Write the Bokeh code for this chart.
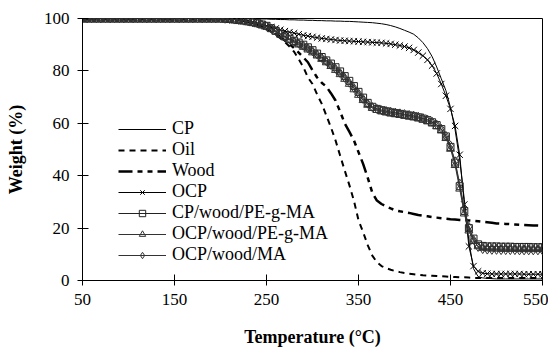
from bokeh.plotting import figure
from bokeh.models import FixedTicker
from bokeh.embed import file_html
from bokeh.resources import INLINE

temperature = list(range(50, 555, 5))

cp = [100, 100, 100, 100, 100, 100, 100, 100, 100, 100,
      100, 100, 100, 100, 100, 100, 100, 100, 100, 100,
      100, 100, 100, 100, 100, 100, 100, 100, 100, 100,
      100, 100, 100, 100, 99.9, 99.9, 99.9, 99.9, 99.8, 99.8,
      99.8, 99.7, 99.7, 99.6, 99.6, 99.5, 99.5, 99.4, 99.4, 99.3,
      99.3, 99.2, 99.2, 99.1, 99.1, 99.0, 99.0, 98.9, 98.9, 98.8,
      98.7, 98.6, 98.5, 98.4, 98.2, 98.0, 97.7, 97.3, 96.8, 96.2,
      95.5, 94.8, 94.0, 92.6, 90.8, 88.5, 85.5, 81.5, 77.0, 72.5,
      66.0, 57.5, 46.0, 31.0, 15.0, 4.5, 1.5, 1.0, 0.8, 0.7,
      0.6, 0.6, 0.6, 0.6, 0.6, 0.6, 0.6, 0.6, 0.6, 0.6,
      0.6]

oil = [100, 100, 100, 100, 100, 100, 100, 100, 100, 100,
       100, 100, 100, 100, 100, 100, 100, 100, 100, 100,
       100, 100, 100, 100, 100, 100, 100, 100, 100, 100,
       100, 99.9, 99.8, 99.6, 99.4, 99.1, 98.7, 98.2, 97.6, 96.9,
       96.0, 95.0, 93.8, 92.5, 91.0, 89.3, 87.3, 84.5, 81.5, 77.5,
       75.0, 71.0, 67.5, 63.0, 58.5, 53.5, 47.7, 42.0, 36.5, 30.5,
       23.0, 18.5, 13.5, 9.5, 7.0, 5.5, 4.7, 4.1, 3.6, 3.2,
       2.9, 2.6, 2.4, 2.2, 2.0, 1.9, 1.8, 1.7, 1.6, 1.5,
       1.4, 1.3, 1.2, 1.2, 1.1, 1.0, 1.0, 1.0, 1.0, 1.0,
       1.0, 1.0, 1.0, 1.0, 1.0, 1.0, 1.0, 1.0, 1.0, 1.0,
       1.0]

wood = [100, 100, 100, 100, 100, 100, 100, 100, 100, 100,
        100, 100, 100, 100, 100, 100, 100, 100, 100, 100,
        100, 100, 100, 100, 100, 100, 100, 100, 100, 100,
        100, 99.9, 99.8, 99.6, 99.4, 99.1, 98.7, 98.2, 97.6, 96.9,
        96.1, 95.2, 94.2, 93.0, 91.6, 90.2, 88.7, 87.0, 85.2, 83.3,
        80.2, 77.5, 75.5, 74.0, 71.5, 68.7, 64.5, 60.0, 56.8, 53.5,
        49.0, 44.5, 39.3, 33.5, 30.5, 29.2, 28.3, 27.5, 26.8, 26.4,
        26.1, 25.8, 25.4, 25.0, 24.7, 24.5, 24.2, 24.0, 23.8, 23.6,
        23.4, 23.3, 23.1, 23.0, 22.9, 22.8, 22.6, 22.4, 22.2, 22.0,
        21.8, 21.7, 21.6, 21.5, 21.4, 21.3, 21.2, 21.1, 21.0, 21.0,
        20.9]

ocp = [100, 100, 100, 100, 100, 100, 100, 100, 100, 100,
       100, 100, 100, 100, 100, 100, 100, 100, 100, 100,
       100, 100, 100, 100, 100, 100, 100, 100, 100, 100,
       100, 99.9, 99.8, 99.7, 99.5, 99.3, 99.0, 98.6, 98.2, 97.7,
       97.2, 96.7, 96.2, 95.7, 95.2, 94.8, 94.4, 94.0, 93.6, 93.3,
       93.0, 92.7, 92.4, 92.2, 92.0, 91.8, 91.6, 91.5, 91.4, 91.3,
       91.2, 91.1, 91.0, 90.9, 90.8, 90.7, 90.5, 90.3, 90.0, 89.7,
       89.3, 88.8, 88.0, 87.0, 85.8, 84.2, 82.0, 79.0, 75.0, 70.5,
       65.5, 59.0, 48.0, 29.0, 13.0, 5.5, 3.5, 2.8, 2.6, 2.5,
       2.5, 2.5, 2.5, 2.5, 2.5, 2.5, 2.4, 2.4, 2.4, 2.4,
       2.4]

cp_wood_pe = [100, 100, 100, 100, 100, 100, 100, 100, 100, 100,
              100, 100, 100, 100, 100, 100, 100, 100, 100, 100,
              100, 100, 100, 100, 100, 100, 100, 100, 100, 100,
              100, 99.9, 99.8, 99.6, 99.4, 99.2, 98.9, 98.6, 98.2, 97.7,
              97.2, 96.3, 95.3, 94.2, 93.2, 92.3, 91.5, 90.8, 90.0, 89.0,
              87.9, 86.6, 85.3, 84.0, 82.8, 81.4, 79.8, 78.0, 76.2, 74.2,
              72.0, 69.8, 67.8, 66.3, 65.5, 65.0, 64.6, 64.2, 63.9, 63.6,
              63.3, 63.0, 62.7, 62.3, 61.8, 61.2, 60.4, 59.3, 57.8, 55.0,
              51.0, 45.0, 36.0, 26.5, 20.0, 16.0, 13.8, 13.2, 13.0, 13.0,
              13.0, 12.9, 12.9, 12.9, 12.8, 12.8, 12.8, 12.8, 12.7, 12.7,
              12.7]

ocp_wood_pe = [100, 100, 100, 100, 100, 100, 100, 100, 100, 100,
               100, 100, 100, 100, 100, 100, 100, 100, 100, 100,
               100, 100, 100, 100, 100, 100, 100, 100, 100, 100,
               100, 99.9, 99.8, 99.6, 99.4, 99.1, 98.8, 98.4, 98.0, 97.5,
               96.9, 96.0, 95.0, 93.9, 92.8, 91.8, 90.9, 90.0, 89.1, 88.1,
               87.0, 85.8, 84.5, 83.2, 81.8, 80.3, 78.7, 76.9, 75.0, 72.9,
               70.8, 68.8, 67.0, 65.8, 65.0, 64.5, 64.1, 63.7, 63.4, 63.1,
               62.8, 62.5, 62.2, 61.8, 61.3, 60.7, 59.9, 58.8, 57.2, 54.3,
               50.2, 44.0, 35.0, 25.5, 19.0, 15.0, 13.0, 12.4, 12.2, 12.1,
               12.1, 12.0, 12.0, 12.0, 12.0, 11.9, 11.9, 11.9, 11.9, 11.9,
               11.9]

ocp_wood_ma = [100, 100, 100, 100, 100, 100, 100, 100, 100, 100,
               100, 100, 100, 100, 100, 100, 100, 100, 100, 100,
               100, 100, 100, 100, 100, 100, 100, 100, 100, 100,
               100, 99.9, 99.8, 99.6, 99.4, 99.2, 98.9, 98.5, 98.1, 97.6,
               97.0, 96.2, 95.2, 94.1, 93.0, 92.0, 91.2, 90.4, 89.6, 88.6,
               87.5, 86.3, 85.0, 83.7, 82.3, 80.8, 79.2, 77.4, 75.5, 73.5,
               71.4, 69.3, 67.5, 66.2, 65.5, 65.0, 64.7, 64.4, 64.1, 63.8,
               63.5, 63.2, 62.9, 62.5, 62.0, 61.4, 60.6, 59.5, 57.9, 55.2,
               51.5, 45.5, 37.0, 27.5, 20.5, 15.5, 12.8, 12.0, 11.8, 11.7,
               11.7, 11.6, 11.6, 11.6, 11.6, 11.5, 11.5, 11.5, 11.5, 11.5,
               11.5]

x_ticks = [50, 150, 250, 350, 450, 550]
y_ticks = [0, 20, 40, 60, 80, 100]

FONT = "Liberation Serif"

p = figure(width=548, height=351, x_range=(50, 550), y_range=(0, 100),
           output_backend="svg", toolbar_location=None,
           min_border_left=82, min_border_right=6, min_border_top=18,
           min_border_bottom=71)

p.xgrid.visible = False
p.ygrid.visible = False
p.outline_line_color = "black"
p.outline_line_width = 1

p.xaxis.ticker = FixedTicker(ticks=x_ticks)
p.yaxis.ticker = FixedTicker(ticks=y_ticks)
for ax in (p.xaxis, p.yaxis):
    ax.axis_line_color = "black"
    ax.axis_line_width = 1
    ax.major_tick_line_color = "black"
    ax.major_tick_in = 6
    ax.major_tick_out = 5
    ax.minor_tick_line_color = None
    ax.major_label_text_font = FONT
    ax.major_label_text_font_size = "17px"
    ax.major_label_text_color = "black"
    ax.axis_label_text_font = FONT
    ax.axis_label_text_font_size = "18px"
    ax.axis_label_text_font_style = "bold"
    ax.axis_label_text_color = "black"

p.xaxis.axis_label = "Temperature (°C)"
p.yaxis.axis_label = "Weight (%)"
p.xaxis.major_label_standoff = 8
p.xaxis.axis_label_standoff = 19
p.yaxis.major_label_standoff = 8
p.yaxis.axis_label_standoff = 15

p.line(temperature, cp, line_color="black", line_width=1, legend_label="CP")
p.line(temperature, oil, line_color="black", line_width=2, line_dash="6 5",
       legend_label="Oil")
p.line(temperature, wood, line_color="black", line_width=2.5,
       line_dash="14 5 5 5 5 5", legend_label="Wood")

p.line(temperature, ocp, line_color="black", line_width=1, legend_label="OCP")
p.scatter(temperature, ocp, marker="x", size=9, line_color="black",
          line_width=1, legend_label="OCP")

p.line(temperature, cp_wood_pe, line_color="#222222", line_width=1,
       legend_label="CP/wood/PE-g-MA")
p.scatter(temperature, cp_wood_pe, marker="square", size=7,
          line_color="#222222", fill_color=None, line_width=1,
          legend_label="CP/wood/PE-g-MA")

p.line(temperature, ocp_wood_pe, line_color="#333333", line_width=1,
       legend_label="OCP/wood/PE-g-MA")
p.scatter(temperature, ocp_wood_pe, marker="triangle", size=8,
          line_color="#333333", fill_color=None, line_width=1,
          legend_label="OCP/wood/PE-g-MA")

p.line(temperature, ocp_wood_ma, line_color="#333333", line_width=1,
       legend_label="OCP/wood/MA")
p.scatter(temperature, ocp_wood_ma, marker="diamond", size=9,
          line_color="#333333", fill_color=None, line_width=1,
          legend_label="OCP/wood/MA")

lg = p.legend[0]
lg.location = (36, 15)
lg.border_line_color = None
lg.background_fill_alpha = 0
lg.padding = 0
lg.margin = 0
lg.spacing = -3
lg.glyph_width = 48
lg.glyph_height = 16
lg.label_height = 16
lg.label_standoff = 6
lg.label_text_font = FONT
lg.label_text_font_size = "18px"
lg.label_text_color = "black"

open("out.html", "w").write(file_html(p, INLINE))
